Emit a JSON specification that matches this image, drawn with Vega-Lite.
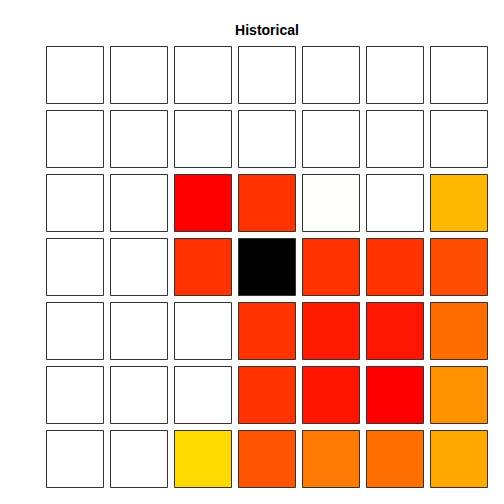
{
  "$schema": "https://vega.github.io/schema/vega-lite/v6.json",
  "autosize": "none",
  "width": 448,
  "height": 448,
  "padding": {"left": 43, "top": 43, "right": 13, "bottom": 13},
  "background": "white",
  "title": {"text": "Historical", "font": "Liberation Sans", "fontSize": 14, "fontWeight": "bold", "color": "black", "anchor": "middle", "offset": 5},
  "config": {"view": {"stroke": null}},
  "data": {"values": [
    {"row":1,"col":1,"value":1},{"row":1,"col":2,"value":1},{"row":1,"col":3,"value":1},{"row":1,"col":4,"value":1},{"row":1,"col":5,"value":1},{"row":1,"col":6,"value":1},{"row":1,"col":7,"value":1},
    {"row":2,"col":1,"value":1},{"row":2,"col":2,"value":1},{"row":2,"col":3,"value":1},{"row":2,"col":4,"value":1},{"row":2,"col":5,"value":1},{"row":2,"col":6,"value":1},{"row":2,"col":7,"value":1},
    {"row":3,"col":1,"value":1},{"row":3,"col":2,"value":1},{"row":3,"col":3,"value":0.375},{"row":3,"col":4,"value":0.45},{"row":3,"col":5,"value":0.996},{"row":3,"col":6,"value":1},{"row":3,"col":7,"value":0.647},
    {"row":4,"col":1,"value":1},{"row":4,"col":2,"value":1},{"row":4,"col":3,"value":0.45},{"row":4,"col":4,"value":0},{"row":4,"col":5,"value":0.45},{"row":4,"col":6,"value":0.45},{"row":4,"col":7,"value":0.488},
    {"row":5,"col":1,"value":1},{"row":5,"col":2,"value":1},{"row":5,"col":3,"value":1},{"row":5,"col":4,"value":0.45},{"row":5,"col":5,"value":0.414},{"row":5,"col":6,"value":0.406},{"row":5,"col":7,"value":0.536},
    {"row":6,"col":1,"value":1},{"row":6,"col":2,"value":1},{"row":6,"col":3,"value":1},{"row":6,"col":4,"value":0.45},{"row":6,"col":5,"value":0.404},{"row":6,"col":6,"value":0.375},{"row":6,"col":7,"value":0.59},
    {"row":7,"col":1,"value":1},{"row":7,"col":2,"value":1},{"row":7,"col":3,"value":0.695},{"row":7,"col":4,"value":0.5},{"row":7,"col":5,"value":0.554},{"row":7,"col":6,"value":0.54},{"row":7,"col":7,"value":0.622}
  ]},
  "mark": {"type": "rect", "stroke": "#333333", "strokeWidth": 1},
  "encoding": {
    "x": {"field": "col", "type": "ordinal", "axis": null, "scale": {"paddingInner": 0.109375, "paddingOuter": 0.0546875}},
    "y": {"field": "row", "type": "ordinal", "axis": null, "scale": {"paddingInner": 0.109375, "paddingOuter": 0.0546875}},
    "fill": {"field": "value", "type": "quantitative", "legend": null,
      "scale": {"type": "linear", "domain": [0, 0.375, 0.75, 1], "range": ["#000000", "#FF0000", "#FFFF00", "#FFFFFF"], "interpolate": "rgb"}}
  }
}
